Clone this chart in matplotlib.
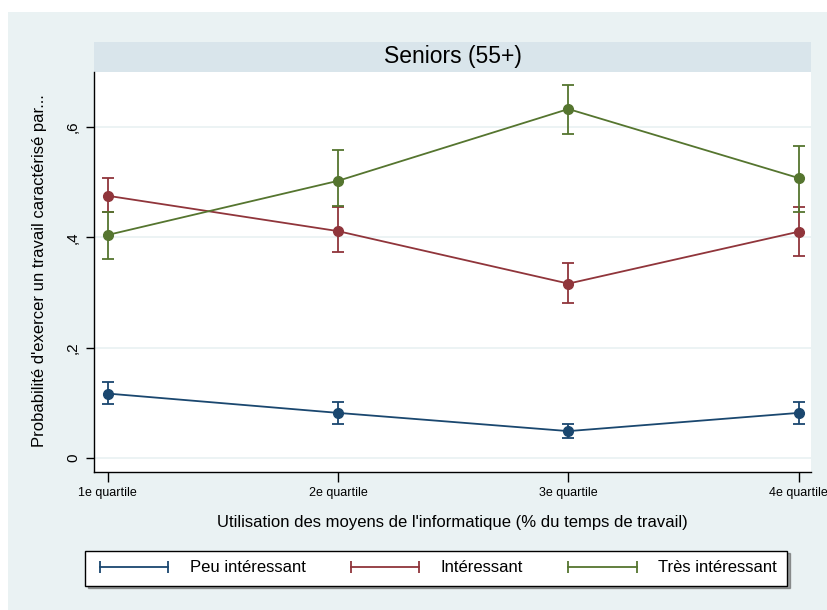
import matplotlib
matplotlib.use("Agg")
import matplotlib.pyplot as plt
from matplotlib.lines import Line2D
from matplotlib.patches import Rectangle

plt.rcParams['font.family'] = ['Liberation Sans', 'DejaVu Sans']

quartiles = ["1e quartile", "2e quartile", "3e quartile", "4e quartile"]
x = [1, 2, 3, 4]

series = ["Peu intéressant", "Intéressant", "Très intéressant"]
colors = ["#1a476f", "#90353b", "#55752f"]

peu = [0.117, 0.082, 0.049, 0.082]
peu_lo = [0.098, 0.062, 0.037, 0.062]
peu_hi = [0.138, 0.102, 0.062, 0.102]

inter = [0.475, 0.411, 0.316, 0.410]
inter_lo = [0.445, 0.374, 0.280, 0.366]
inter_hi = [0.507, 0.455, 0.354, 0.455]

tres = [0.404, 0.502, 0.632, 0.507]
tres_lo = [0.361, 0.457, 0.587, 0.445]
tres_hi = [0.445, 0.557, 0.676, 0.565]

yticks = [0, 0.2, 0.4, 0.6]
ytick_labels = ["0", ",2", ",4", ",6"]

W, H = 828, 610
fig = plt.figure(figsize=(W / 100, H / 100), dpi=100)
fig.patch.set_facecolor("white")
# graph region background
fig.patches.append(Rectangle((8 / W, 0), 1 - 8 / W, 1 - 12 / H, transform=fig.transFigure,
                             facecolor="#eaf2f3", edgecolor="none", zorder=-10))

ax = fig.add_axes([94 / W, 1 - 472 / H, (811 - 94) / W, (472 - 72) / H])
ax.set_facecolor("white")

# strip header
fig.patches.append(Rectangle((94 / W, 1 - 72 / H), (811 - 94) / W, 30 / H, transform=fig.transFigure,
                             facecolor="#d9e5eb", edgecolor="none", zorder=-5))
fig.text((94 + 811) / 2 / W, 1 - 57 / H, "Seniors (55+)", ha="center", va="center", fontsize=16.5)

data = [(peu, peu_lo, peu_hi), (inter, inter_lo, inter_hi), (tres, tres_lo, tres_hi)]
for (y, lo, hi), c in zip(data, colors):
    err = [[v - l for v, l in zip(y, lo)], [h - v for v, h in zip(y, hi)]]
    ax.errorbar(x, y, yerr=err, color=c, lw=1.3, elinewidth=1.3, capsize=4, capthick=1.3,
                marker="o", markersize=7, zorder=3)

ax.set_xlim(0.941, 4.053)
ax.set_ylim(-0.025, 0.699)
ax.set_xticks(x)
ax.set_xticklabels(quartiles, fontsize=9)
ax.set_yticks(yticks)
ax.set_yticklabels(ytick_labels, fontsize=11, rotation=90, va="center")
ax.tick_params(axis="x", length=7, width=1, pad=4)
ax.tick_params(axis="y", length=6, width=1, pad=4)
ax.grid(axis="y", color="#eaf2f3", lw=1.3, zorder=0)
ax.set_axisbelow(True)
for s in ["top", "right"]:
    ax.spines[s].set_visible(False)
ax.spines["left"].set_linewidth(1)
ax.spines["bottom"].set_linewidth(1)

fig.text(40 / W, 1 - 271 / H, "Probabilité d'exercer un travail caractérisé par...",
         rotation=90, ha="center", va="center", fontsize=12)
fig.text((94 + 811) / 2 / W, 1 - 523 / H,
         "Utilisation des moyens de l'informatique (% du temps de travail)",
         ha="center", va="center", fontsize=12)

handles = [Line2D([], [], color=c, lw=1.3, marker="|", markersize=9, markeredgewidth=1.3) for c in colors]
leg = fig.legend(handles, series, ncol=3, numpoints=2, loc="center",
                 bbox_to_anchor=(85 / W, 1 - 589 / H, (787 - 85) / W, 42 / H), mode="expand",
                 fontsize=12, frameon=True, fancybox=False, shadow=True, edgecolor="black",
                 handlelength=4.7, handletextpad=1.0, columnspacing=2.5, borderpad=0.6,
                 borderaxespad=0)
leg.get_frame().set_linewidth(1)

fig.savefig("out.png", dpi=100)
